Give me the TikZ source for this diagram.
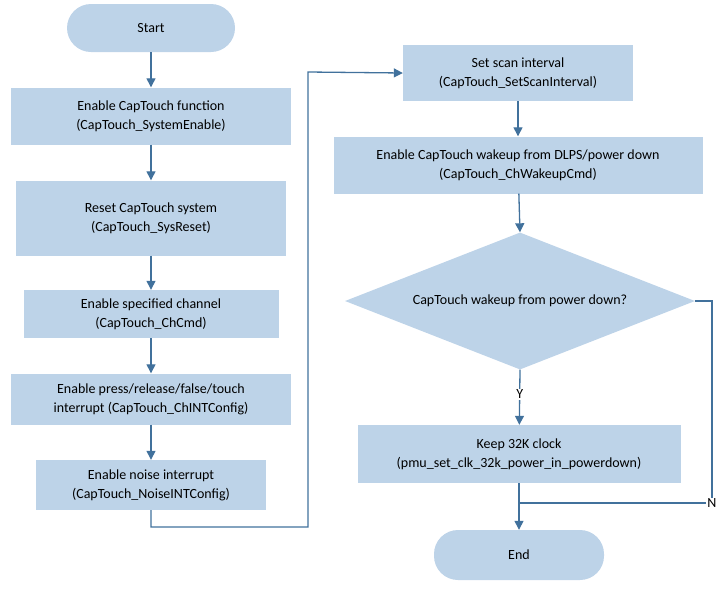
\documentclass[tikz,border=0pt]{standalone}
\usepackage{fontspec}
\setmainfont{Carlito}
\usetikzlibrary{shapes.geometric,arrows.meta}
\definecolor{fillb}{HTML}{BDD3E8}
\definecolor{lineb}{HTML}{41719C}
\begin{document}
\begin{tikzpicture}[x=1pt,y=-1pt,
  box/.style={fill=fillb,draw=none,align=center,font=\fontsize{14}{19}\selectfont,inner sep=0pt},
  term/.style={box,rounded corners=24pt},
  dia/.style={diamond,fill=fillb,draw=none,aspect=2.55,inner sep=0pt,font=\fontsize{14}{19}\selectfont},
  conn/.style={draw=lineb,line width=1.3pt,-{Triangle[length=9pt,width=9pt]}},
  lab/.style={font=\fontsize{14}{16}\selectfont,inner sep=1pt}]
\useasboundingbox (0,0) rectangle (728,590);
\node[term,minimum width=168pt,minimum height=48pt] (s) at (151,28) {Start};
\node[box,minimum width=280pt,minimum height=57pt] (b1) at (151,116) {Enable CapTouch function\\(CapTouch\_SystemEnable)};
\node[box,minimum width=270pt,minimum height=75pt] (b2) at (151,218) {Reset CapTouch system\\(CapTouch\_SysReset)};
\node[box,minimum width=255pt,minimum height=48pt] (b3) at (151,314) {Enable specified channel\\(CapTouch\_ChCmd)};
\node[box,minimum width=280pt,minimum height=51pt] (b4) at (151,399) {Enable press/release/false/touch\\interrupt (CapTouch\_ChINTConfig)};
\node[box,minimum width=230pt,minimum height=50pt] (b5) at (151,485) {Enable noise interrupt\\(CapTouch\_NoiseINTConfig)};
\node[box,minimum width=230pt,minimum height=56pt] (b6) at (518,73) {Set scan interval\\(CapTouch\_SetScanInterval)};
\node[box,minimum width=369pt,minimum height=57pt] (b7) at (518,165) {Enable CapTouch wakeup from DLPS/power down\\(CapTouch\_ChWakeupCmd)};
\node[dia,minimum width=350pt,minimum height=137pt] (d) at (520,301) {CapTouch wakeup from power down?};
\node[box,minimum width=323pt,minimum height=58pt] (b8) at (519,454) {Keep 32K clock\\(pmu\_set\_clk\_32k\_power\_in\_powerdown)};
\node[term,minimum width=170pt,minimum height=50pt] (e) at (519,555) {End};
\coordinate (c1) at (151,527);
\coordinate (c2) at (308,527);
\coordinate (c3) at (308,72);
\coordinate (n1) at (712,301);
\coordinate (n2) at (712,503);
\coordinate (m) at (519,503);
\draw[conn] (s) -- (b1);
\draw[conn] (b1) -- (b2);
\draw[conn] (b2) -- (b3);
\draw[conn] (b3) -- (b4);
\draw[conn] (b4) -- (b5);
\draw[conn] (b5.south) -- (c1) -- (c2) -- (c3) -- (b6.west);
\draw[conn] (b6) -- (b7);
\draw[conn] (b7) -- (d.north);
\draw[conn] (d.south) -- node[lab,fill=white,pos=0.45]{Y} (b8);
\draw[conn] (b8) -- (e);
\draw[draw=lineb,line width=1.3pt] (d.east) -- (n1) -- (n2) -- (m);
\node[lab,fill=white] (nl) at (712,503) {N};
\end{tikzpicture}
\end{document}
